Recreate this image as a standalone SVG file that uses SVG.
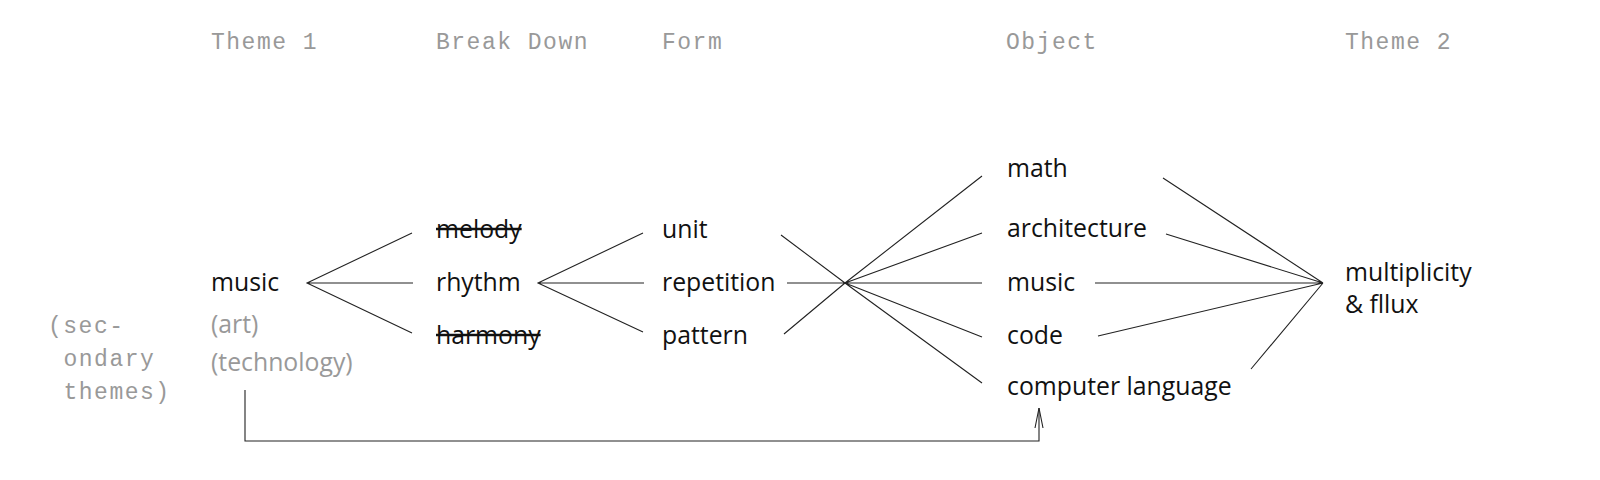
<svg xmlns="http://www.w3.org/2000/svg" width="1600" height="480" viewBox="0 0 1600 480">
<style>
.hdr{font-family:"Liberation Mono","DejaVu Sans Mono",monospace;font-size:23px;letter-spacing:1.5px;fill:#999}
.lbl{font-family:"Open Sans","Noto Sans",sans-serif;font-size:24.8px;fill:#111}
.sec{font-family:"Open Sans","Noto Sans",sans-serif;font-size:24.8px;fill:#999}
.strike{text-decoration:line-through}
.ln{stroke:#222;stroke-width:1.1;fill:none}
</style>
<defs>
<marker id="arr" markerWidth="24" markerHeight="12" refX="22" refY="6" orient="auto" markerUnits="userSpaceOnUse" viewBox="0 0 24 12">
<path d="M2,2 L22,6 L2,10" fill="none" stroke="#222" stroke-width="1.1"/>
</marker>
</defs>
<rect width="1600" height="480" fill="#fff"/>
<g id="headers">
<text class="hdr" x="211" y="49">Theme 1</text>
<text class="hdr" x="436" y="49">Break Down</text>
<text class="hdr" x="662" y="49">Form</text>
<text class="hdr" x="1006" y="49">Object</text>
<text class="hdr" x="1345" y="49">Theme 2</text>
</g>
<g id="secondary-themes">
<text class="hdr" x="48" y="333">(sec-</text>
<text class="hdr" x="63.5" y="366">ondary</text>
<text class="hdr" x="63.5" y="399">themes)</text>
</g>
<g id="theme1-music"><text class="lbl" x="211" y="291">music</text></g>
<g id="theme1-art"><text class="sec" x="211" y="333">(art)</text></g>
<g id="theme1-technology"><text class="sec" x="211" y="371">(technology)</text></g>
<g id="melody"><text class="lbl strike" x="436" y="238">melody</text></g>
<g id="rhythm"><text class="lbl" x="436" y="291">rhythm</text></g>
<g id="harmony"><text class="lbl strike" x="436" y="344">harmony</text></g>
<g id="unit"><text class="lbl" x="662" y="238">unit</text></g>
<g id="repetition"><text class="lbl" x="662" y="291">repetition</text></g>
<g id="pattern"><text class="lbl" x="662" y="344">pattern</text></g>
<g id="math"><text class="lbl" x="1007" y="177">math</text></g>
<g id="architecture"><text class="lbl" x="1007" y="237">architecture</text></g>
<g id="object-music"><text class="lbl" x="1007" y="291">music</text></g>
<g id="code"><text class="lbl" x="1007" y="344">code</text></g>
<g id="computer-language"><text class="lbl" x="1007" y="395">computer language</text></g>
<g id="multiplicity-flux">
<text class="lbl" x="1345" y="281">multiplicity</text>
<text class="lbl" x="1345" y="313">&amp; fllux</text>
</g>
<g id="connectors">
<path class="ln" d="M412,233 L307,283 L412,333 M307,283 L413,283"/>
<path class="ln" d="M643,233 L538,283 L643,332 M538,283 L644,283"/>
<path class="ln" d="M781,235 L845,283 M784,334 L845,283 M787,283 L982,283 M845,283 L982,176 M845,283 L982,233 M845,283 L982,337 M845,283 L982,383"/>
<path class="ln" d="M1163,178 L1323,283 M1166,234 L1323,283 M1095,283 L1323,283 M1098,336 L1323,283 M1251,369 L1323,283"/>
<path class="ln" d="M245,390 L245,441 L1039,441 L1039,408" marker-end="url(#arr)"/>
</g>
</svg>
